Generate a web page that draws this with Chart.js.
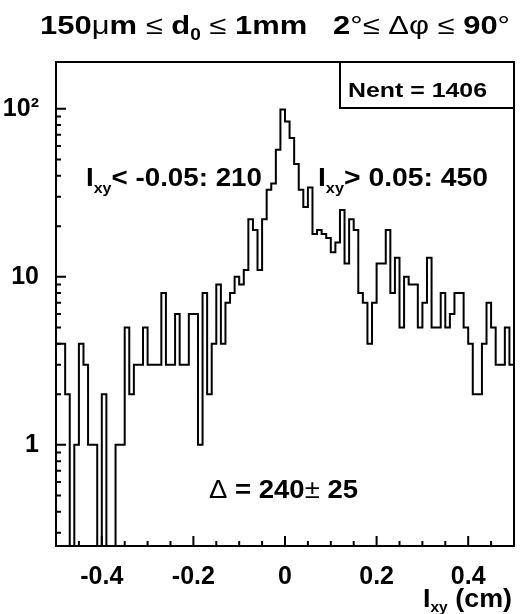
<!DOCTYPE html>
<html><head><meta charset="utf-8">
<script src="https://cdn.jsdelivr.net/npm/chart.js@4.4.1/dist/chart.umd.min.js"></script>
<style>html,body{margin:0;padding:0;background:#fff;}#wrap{width:527px;height:614px;position:relative;}</style>
</head><body><div id="wrap"><canvas id="c"></canvas></div>
<script>
// ---- data ----
const histLow = -0.5;
const histHigh = 0.5;
const counts = [
  4, 4, 2, 0, 1, 4, 3, 1, 1, 0,
  2, 0, 0, 1, 1, 5, 2, 3, 3, 5,
  3, 3, 3, 8, 3, 3, 6, 3, 3, 6,
  6, 1, 8, 2, 4, 9, 4, 7, 8, 10,
  9, 11, 22, 19, 11, 22, 33, 36, 57, 99,
  84, 67, 47, 33, 26, 34, 18, 19, 18, 17,
  14, 16, 25, 12, 22, 19, 8, 7, 4, 7,
  12, 12, 19, 8, 13, 5, 10, 9, 9, 5,
  7, 13, 5, 5, 8, 5, 6, 8, 8, 5,
  4, 2, 2, 4, 7, 5, 3, 3, 5, 3
];
const xTickValues = [-0.4, -0.2, 0, 0.2, 0.4];
const xTickLabels = ['-0.4', '-0.2', '0', '0.2', '0.4'];
const yTickValues = [1, 10, 100];
const yTickLabels = ['1', '10', '10\u00B2'];
const yMin = 0.25, yMax = 190;
const nEntries = 1406;
const leftCount = 210, rightCount = 450;
const cutValue = 0.05;
const deltaValue = 240, deltaError = 25;

// ---- build step outline from bins ----
const nb = counts.length;
const bw = (histHigh - histLow) / nb;
const pts = [];
counts.forEach((c, i) => {
  const v = c > 0 ? c : yMin;
  pts.push({x: histLow + i * bw, y: v});
  pts.push({x: histLow + (i + 1) * bw, y: v});
});

const B = 'bold ';
const FAM = '"Liberation Sans", Arial, sans-serif';
// draw mixed-font text from x0 to x1 (stretched horizontally to fit, like the original)
function drawRich(ctx, x0, x1, y, segs) {
  let w = 0;
  segs.forEach(s => { ctx.font = s.f; w += ctx.measureText(s.t).width; });
  const sx = (x1 - x0) / w;
  ctx.save();
  ctx.translate(x0, y);
  ctx.scale(sx, 1);
  ctx.textBaseline = 'alphabetic';
  ctx.textAlign = 'left';
  let cx = 0;
  segs.forEach(s => {
    ctx.font = s.f;
    ctx.fillText(s.t, cx, s.dy || 0);
    cx += ctx.measureText(s.t).width;
  });
  ctx.restore();
}

const overlay = {
  id: 'overlay',
  afterDraw(chart) {
    const ctx = chart.ctx;
    const a = chart.chartArea;
    const xs = chart.scales.x, ys = chart.scales.y;
    ctx.save();
    ctx.strokeStyle = '#000';
    ctx.fillStyle = '#000';
    ctx.lineWidth = 2;
    // inward ticks x
    ctx.beginPath();
    for (let k = -10; k <= 10; k++) {
      const v = k * 0.05;
      const px = xs.getPixelForValue(v);
      const len = (k % 4 === 0) ? 10 : 5;
      ctx.moveTo(px, a.bottom);
      ctx.lineTo(px, a.bottom - len);
    }
    // inward ticks y
    [0.1, 1, 10, 100].forEach(d => {
      for (let m = 1; m <= 9; m++) {
        const v = m * d;
        if (v < yMin || v > yMax) continue;
        const py = ys.getPixelForValue(v);
        const len = m === 1 ? 10 : 5;
        ctx.moveTo(a.left, py);
        ctx.lineTo(a.left + len, py);
      }
    });
    ctx.stroke();
    // frame
    ctx.strokeRect(a.left, a.top, a.right - a.left, a.bottom - a.top);
    // stats box
    ctx.fillStyle = '#fff';
    ctx.fillRect(340, a.top, a.right - 340, 46);
    ctx.strokeRect(340, a.top, a.right - 340, 46);
    ctx.fillStyle = '#000';
    drawRich(ctx, 348, 487, 97, [{t: 'Nent = ' + nEntries, f: B + '21px ' + FAM}]);
    // title
    const T = B + '26px ' + FAM, S = '26px ' + FAM, SUB = B + '16px ' + FAM;
    drawRich(ctx, 40, 510, 34, [
      {t: '150', f: T}, {t: '\u03BC', f: S}, {t: 'm ', f: T}, {t: '\u2264', f: S}, {t: ' d', f: T},
      {t: '0', f: SUB, dy: 6}, {t: ' ', f: T}, {t: '\u2264', f: S}, {t: ' 1mm   2', f: T},
      {t: '\u00B0', f: S}, {t: '\u2264 \u0394\u03C6 \u2264', f: S}, {t: ' 90', f: T}, {t: '\u00B0', f: S}
    ]);
    // annotations
    const A = B + '26px ' + FAM, AS = B + '15px ' + FAM, AR = '26px ' + FAM;
    drawRich(ctx, 86, 262, 186, [{t: 'I', f: A}, {t: 'xy', f: AS, dy: 7}, {t: '< -' + cutValue + ': ' + leftCount, f: A}]);
    drawRich(ctx, 318, 488, 186, [{t: 'I', f: A}, {t: 'xy', f: AS, dy: 7}, {t: '> ' + cutValue + ': ' + rightCount, f: A}]);
    drawRich(ctx, 209, 358, 498, [{t: '\u0394', f: AR}, {t: ' = ' + deltaValue, f: A}, {t: '\u00B1', f: AR}, {t: ' ' + deltaError, f: A}]);
    drawRich(ctx, 423, 512, 607, [{t: 'I', f: A}, {t: 'xy', f: AS, dy: 5}, {t: ' (cm)', f: A}]);
    ctx.restore();
  }
};

new Chart(document.getElementById('c'), {
  type: 'line',
  data: { datasets: [{
    data: pts, borderColor: '#000', borderWidth: 2, pointRadius: 0, tension: 0, fill: false
  }]},
  options: {
    responsive: true, maintainAspectRatio: false, animation: false,
    layout: { padding: { top: 62, right: 13, left: 0, bottom: 0 } },
    plugins: { legend: { display: false }, tooltip: { enabled: false } },
    scales: {
      x: {
        type: 'linear', min: histLow, max: histHigh,
        afterBuildTicks: s => { s.ticks = xTickValues.map(v => ({value: v})); },
        afterFit: s => { s.height = 68; },
        grid: { display: false }, border: { display: false },
        ticks: { color: '#000', padding: 8, maxRotation: 0, autoSkip: false,
          font: { family: FAM, weight: 'bold', size: 25 },
          callback: (v, i) => xTickLabels[i] }
      },
      y: {
        type: 'logarithmic', min: yMin, max: yMax,
        afterBuildTicks: s => { s.ticks = yTickValues.map(v => ({value: v})); },
        afterFit: s => { s.width = 56; },
        grid: { display: false }, border: { display: false },
        ticks: { color: '#000', padding: 9, autoSkip: false,
          font: { family: FAM, weight: 'bold', size: 25 },
          callback: (v, i) => yTickLabels[i] }
      }
    }
  },
  plugins: [overlay]
});
</script></body></html>
